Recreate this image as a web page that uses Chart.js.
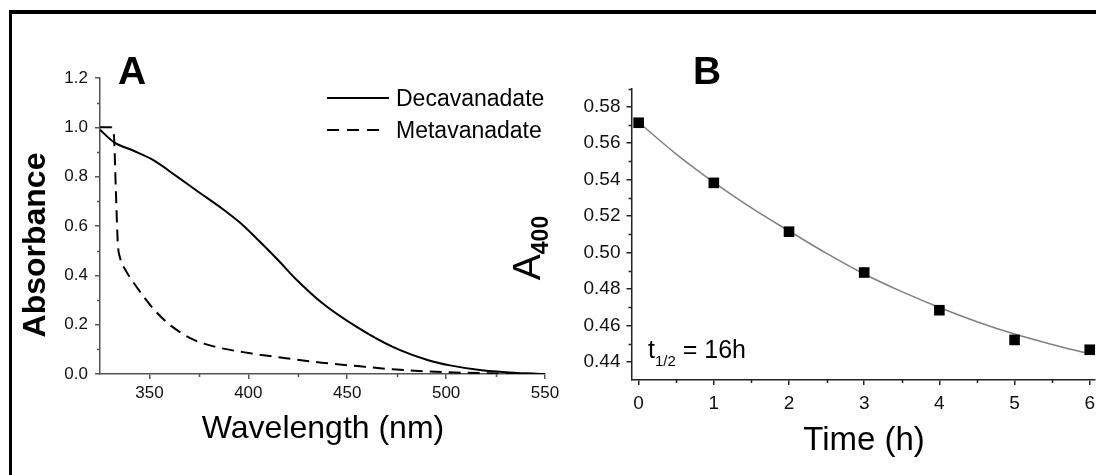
<!DOCTYPE html>
<html>
<head>
<meta charset="utf-8">
<script src="https://cdn.jsdelivr.net/npm/chart.js@4.4.1/dist/chart.umd.min.js"></script>
<style>
  html, body { margin: 0; padding: 0; background: #fff; overflow: hidden; }
  #fig { position: relative; width: 1096px; height: 475px; overflow: hidden; background: #fff; }
  #frame { position: absolute; left: 9px; top: 10px; width: 1200px; height: 600px;
           border-left: 3px solid #000; border-top: 4px solid #000; pointer-events: none; }
  #chartA { position: absolute; left: 0; top: 0; }
  #chartB { position: absolute; left: 500px; top: 0; }
</style>
</head>
<body>
<div id="fig">
  <canvas id="chartA" width="560" height="475"></canvas>
  <canvas id="chartB" width="620" height="475"></canvas>
  <div id="frame"></div>
</div>
<script>
// Panel A: UV-vis spectra of decavanadate vs metavanadate
const decaWavelength = [325, 332, 342, 352, 364, 375, 386, 396, 406, 415, 424, 437, 455, 473, 491, 502, 518, 536, 550];
const decaAbsorbance = [0.99, 0.94, 0.905, 0.867, 0.80, 0.737, 0.675, 0.612, 0.535, 0.462, 0.385, 0.29, 0.19, 0.11, 0.056, 0.035, 0.015, 0.004, 0.0];

const metaWavelength = [325, 330.5, 332, 333, 334, 335, 338, 342, 347, 353, 361, 372, 383, 401, 419, 437, 455, 473, 491, 510, 530, 550];
const metaAbsorbance = [1.0, 1.0, 0.97, 0.75, 0.53, 0.475, 0.42, 0.37, 0.315, 0.255, 0.195, 0.14, 0.111, 0.084, 0.064, 0.046, 0.032, 0.019, 0.010, 0.005, 0.002, 0.0];

const wavelengthTicks = [350, 400, 450, 500, 550];
const wavelengthMinor = [375, 425, 475, 525];
const absorbanceTicks = [0, 0.2, 0.4, 0.6, 0.8, 1.0, 1.2];
const absorbanceMinor = [0.1, 0.3, 0.5, 0.7, 0.9, 1.1];

// Panel B: decay of A400 with time, plus exponential fit
const timeHours = [0, 1, 2, 3, 4, 5, 6];
const a400 = [0.5712, 0.5382, 0.5114, 0.489, 0.4683, 0.452, 0.4466];
const fitTime = [0, 0.5, 1, 1.5, 2, 2.5, 3, 3.5, 4, 4.5, 5, 5.5, 6];
const fitA400 = [0.5715, 0.554, 0.5385, 0.5245, 0.5118, 0.4995, 0.4882, 0.4785, 0.4698, 0.462, 0.4552, 0.4495, 0.4443];

const timeTicks = [0, 1, 2, 3, 4, 5, 6];
const timeMinor = [0.5, 1.5, 2.5, 3.5, 4.5, 5.5];
const a400Ticks = [0.44, 0.46, 0.48, 0.50, 0.52, 0.54, 0.56, 0.58];
const a400Minor = [0.45, 0.47, 0.49, 0.51, 0.53, 0.55, 0.57, 0.59];

const FONT = 'Arial, "Liberation Sans", sans-serif';
const OFFSET_B = 500; // left of canvas B in page pixels

const toXY = (xs, ys) => xs.map((x, i) => ({ x, y: ys[i] }));

function drawMinor(ctx, scale, values, len, color, width) {
  ctx.save();
  ctx.strokeStyle = color;
  ctx.lineWidth = width;
  ctx.beginPath();
  for (const v of values) {
    const p = Math.round(scale.getPixelForValue(v)) + 0.5;
    if (scale.isHorizontal()) {
      ctx.moveTo(p, scale.top);
      ctx.lineTo(p, scale.top + len);
    } else {
      ctx.moveTo(scale.right, p);
      ctx.lineTo(scale.right - len, p);
    }
  }
  ctx.stroke();
  ctx.restore();
}

function fixedTicks(values) {
  return (s) => { s.ticks = values.map((v) => ({ value: v })); };
}

function noPad(size, isX) {
  return (s) => {
    if (isX) s.height = size; else s.width = size;
    s.paddingLeft = s.paddingRight = s.paddingTop = s.paddingBottom = 0;
  };
}

const panelAText = {
  id: 'panelAText',
  afterDraw(chart) {
    const ctx = chart.ctx;
    drawMinor(ctx, chart.scales.x, wavelengthMinor, 3, '#555', 1.5);
    drawMinor(ctx, chart.scales.y, absorbanceMinor, 3, '#555', 1.5);
    ctx.save();
    ctx.fillStyle = '#000';
    ctx.textBaseline = 'alphabetic';
    ctx.textAlign = 'left';
    ctx.font = `bold 39px ${FONT}`;
    ctx.fillText('A', 118, 84);

    // legend
    ctx.strokeStyle = '#000';
    ctx.lineWidth = 2;
    ctx.beginPath();
    ctx.moveTo(327, 98);
    ctx.lineTo(389, 98);
    ctx.stroke();
    ctx.setLineDash([12, 8]);
    ctx.beginPath();
    ctx.moveTo(327, 130);
    ctx.lineTo(379, 130);
    ctx.stroke();
    ctx.setLineDash([]);
    ctx.font = `23px ${FONT}`;
    ctx.fillText('Decavanadate', 396, 106);
    ctx.fillText('Metavanadate', 396, 138);

    // axis titles
    ctx.font = `32px ${FONT}`;
    ctx.textAlign = 'center';
    ctx.fillText('Wavelength (nm)', 323, 438);
    ctx.save();
    ctx.translate(45, 245);
    ctx.rotate(-Math.PI / 2);
    ctx.font = `bold 32px ${FONT}`;
    ctx.fillText('Absorbance', 0, 0);
    ctx.restore();
    ctx.restore();
  },
};

const panelBText = {
  id: 'panelBText',
  afterDraw(chart) {
    const ctx = chart.ctx;
    drawMinor(ctx, chart.scales.x, timeMinor, 3, '#222', 1.5);
    drawMinor(ctx, chart.scales.y, a400Minor, 3, '#222', 1.5);
    ctx.save();
    ctx.translate(-OFFSET_B, 0);
    ctx.fillStyle = '#000';
    ctx.textBaseline = 'alphabetic';
    ctx.textAlign = 'left';
    ctx.font = `bold 39px ${FONT}`;
    ctx.fillText('B', 693, 84);

    ctx.font = `33px ${FONT}`;
    ctx.textAlign = 'center';
    ctx.fillText('Time (h)', 864, 450);

    // t1/2 annotation
    ctx.textAlign = 'left';
    ctx.font = `25px ${FONT}`;
    ctx.fillText('t', 648, 358);
    const tw = ctx.measureText('t').width;
    ctx.font = `15px ${FONT}`;
    ctx.fillText('1/2', 648 + tw, 366);
    const sw = ctx.measureText('1/2').width;
    ctx.font = `25px ${FONT}`;
    ctx.fillText(' = 16h', 648 + tw + sw, 358);

    // rotated A400 title
    ctx.save();
    ctx.translate(540, 248);
    ctx.rotate(-Math.PI / 2);
    ctx.font = `39px ${FONT}`;
    const aw = ctx.measureText('A').width;
    ctx.font = `bold 23px ${FONT}`;
    const subw = ctx.measureText('400').width;
    const start = -(aw + subw) / 2;
    ctx.font = `39px ${FONT}`;
    ctx.fillText('A', start, 0);
    ctx.font = `bold 23px ${FONT}`;
    ctx.fillText('400', start + aw, 8);
    ctx.restore();
    ctx.restore();
  },
};

new Chart(document.getElementById('chartA'), {
  type: 'scatter',
  data: {
    datasets: [
      {
        label: 'Decavanadate',
        data: toXY(decaWavelength, decaAbsorbance),
        showLine: true,
        borderColor: '#000',
        borderWidth: 2,
        pointRadius: 0,
        cubicInterpolationMode: 'monotone',
      },
      {
        label: 'Metavanadate',
        data: toXY(metaWavelength, metaAbsorbance),
        showLine: true,
        borderColor: '#000',
        borderWidth: 2,
        borderDash: [12, 7],
        pointRadius: 0,
        cubicInterpolationMode: 'monotone',
      },
    ],
  },
  options: {
    responsive: false,
    devicePixelRatio: 1,
    animation: false,
    layout: { padding: { left: 0, top: 78, right: 15, bottom: 0 } },
    plugins: { legend: { display: false }, tooltip: { enabled: false } },
    scales: {
      x: {
        type: 'linear',
        min: 325,
        max: 550,
        afterBuildTicks: fixedTicks(wavelengthTicks),
        afterFit: noPad(101, true),
        border: { color: '#555', width: 1.5 },
        grid: { drawOnChartArea: false, tickLength: 5, color: '#555', lineWidth: 1.5 },
        ticks: { color: '#111', padding: 4, maxRotation: 0, font: { family: FONT, size: 17 }, callback: (v) => String(v) },
      },
      y: {
        type: 'linear',
        min: 0,
        max: 1.2,
        afterBuildTicks: fixedTicks(absorbanceTicks),
        afterFit: noPad(100, false),
        border: { color: '#555', width: 1.5 },
        grid: { drawOnChartArea: false, tickLength: 5, color: '#555', lineWidth: 1.5 },
        ticks: { color: '#111', padding: 7, font: { family: FONT, size: 17 }, callback: (v) => v.toFixed(1) },
      },
    },
  },
  plugins: [panelAText],
});

new Chart(document.getElementById('chartB'), {
  type: 'scatter',
  data: {
    datasets: [
      {
        label: 'A400',
        data: toXY(timeHours, a400),
        pointStyle: 'rect',
        pointRadius: 7.5,
        backgroundColor: '#000',
        borderColor: '#000',
        borderWidth: 0,
        clip: false,
      },
      {
        label: 'fit',
        data: toXY(fitTime, fitA400),
        showLine: true,
        borderColor: '#808080',
        borderWidth: 1.5,
        pointRadius: 0,
        cubicInterpolationMode: 'monotone',
      },
    ],
  },
  options: {
    responsive: false,
    devicePixelRatio: 1,
    animation: false,
    layout: { padding: { left: 0, top: 88.5, right: 25, bottom: 0 } },
    plugins: { legend: { display: false }, tooltip: { enabled: false } },
    scales: {
      x: {
        type: 'linear',
        min: -0.095,
        max: 6.07,
        afterBuildTicks: fixedTicks(timeTicks),
        afterFit: noPad(95, true),
        border: { color: '#222', width: 1.5 },
        grid: { drawOnChartArea: false, tickLength: 5, color: '#222', lineWidth: 1.5 },
        ticks: { color: '#111', padding: 7, maxRotation: 0, font: { family: FONT, size: 19 }, callback: (v) => String(v) },
      },
      y: {
        type: 'linear',
        min: 0.43,
        max: 0.59,
        afterBuildTicks: fixedTicks(a400Ticks),
        afterFit: noPad(131.5, false),
        border: { color: '#222', width: 1.5 },
        grid: { drawOnChartArea: false, tickLength: 5, color: '#222', lineWidth: 1.5 },
        ticks: { color: '#111', padding: 6, font: { family: FONT, size: 19 }, callback: (v) => v.toFixed(2) },
      },
    },
  },
  plugins: [panelBText],
});
</script>
</body>
</html>
